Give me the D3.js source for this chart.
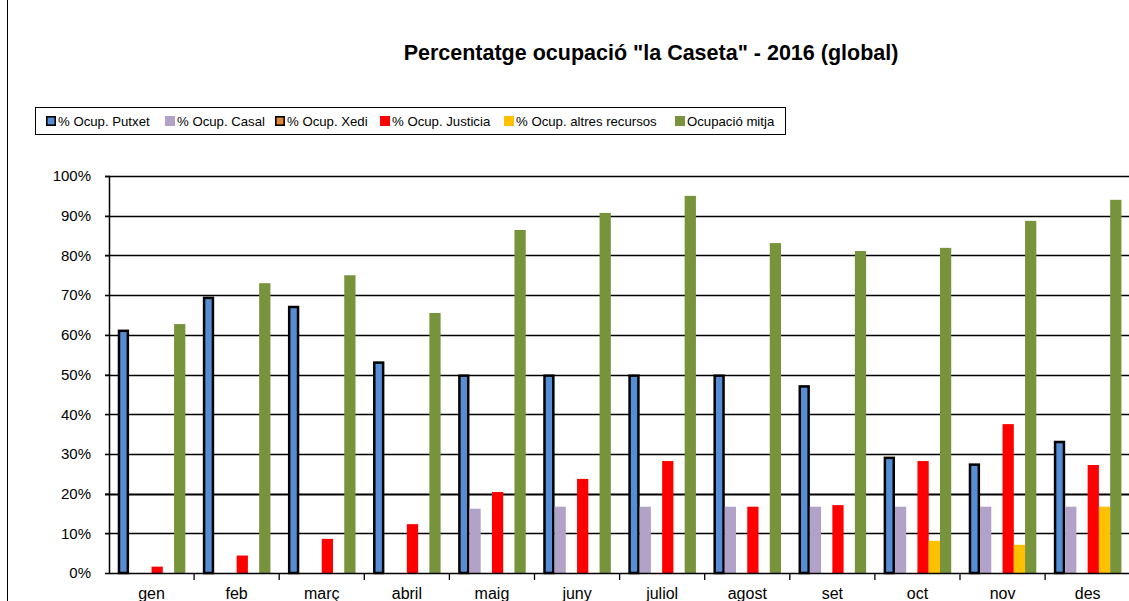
<!DOCTYPE html>
<html>
<head>
<meta charset="utf-8">
<script src="https://cdn.jsdelivr.net/npm/d3@7"></script>
<style>
  body { margin: 0; background: #fff; }
  svg { display: block; font-family: "Liberation Sans", Arial, sans-serif; }
</style>
</head>
<body>
<svg id="chart" width="1129" height="601"></svg>
<script>
// Categories (months) and series values, in percent
const months = ["gen", "feb", "març", "abril", "maig", "juny", "juliol", "agost", "set", "oct", "nov", "des"];
const seriesNames = ["% Ocup. Putxet", "% Ocup. Casal", "% Ocup. Xedi", "% Ocup. Justicia", "% Ocup. altres recursos", "Ocupació mitja"];
const putxet   = [61, 69.3, 67, 53, 49.7, 49.7, 49.7, 49.7, 47, 29, 27.3, 33];
const casal    = [0, 0, 0, 0, 16.2, 16.7, 16.7, 16.7, 16.7, 16.7, 16.7, 16.7];
const xedi     = [0, 0, 0, 0, 0, 0, 0, 0, 0, 0, 0, 0];
const justicia = [1.6, 4.4, 8.6, 12.3, 20.4, 23.7, 28.2, 16.7, 17.1, 28.2, 37.5, 27.2];
const altres   = [0, 0, 0, 0, 0, 0, 0, 0, 0, 8.1, 7.1, 16.7];
const mitja    = [62.7, 73, 75, 65.5, 86.4, 90.7, 95, 83.1, 81.1, 81.9, 88.7, 94];
const yTicks = [0, 10, 20, 30, 40, 50, 60, 70, 80, 90, 100];

const allSeries = [putxet, casal, xedi, justicia, altres, mitja];
const colors = ["#558ED5", "#B3A2C7", "#E0873A", "#FF0000", "#FFC000", "#77933C"];
const outlined = [true, false, true, false, false, false];

const svg = d3.select("#chart");

// plot area
const plotLeft = 109, plotTop = 176, plotBottom = 573;
const catWidth = 85.1;
const plotRight = plotLeft + catWidth * months.length;

const x0 = d3.scaleBand().domain(months).range([plotLeft, plotRight]).padding(0);
const x1 = d3.scaleBand().domain(d3.range(seriesNames.length))
    .range([0, x0.bandwidth()]).paddingInner(0).paddingOuter(0.78);
const y = d3.scaleLinear().domain([0, 100]).range([plotBottom, plotTop]);

// outer chart border (left edge only visible)
svg.append("line")
    .attr("x1", 7.5).attr("x2", 7.5).attr("y1", 0).attr("y2", 601)
    .attr("stroke", "#000").attr("stroke-width", 1);

// title
svg.append("text")
    .attr("x", 651).attr("y", 60)
    .attr("text-anchor", "middle")
    .attr("font-size", 21.5)
    .attr("font-weight", "bold")
    .attr("fill", "#000")
    .text('Percentatge ocupació "la Caseta" - 2016 (global)');

// gridlines
svg.append("g").selectAll("line")
    .data(yTicks.filter(t => t > 0))
    .join("line")
    .attr("x1", plotLeft - 4).attr("x2", 1129)
    .attr("y1", d => Math.round(y(d)) + 0.5).attr("y2", d => Math.round(y(d)) + 0.5)
    .attr("stroke", "#000")
    .attr("stroke-width", d => d === 20 ? 2.2 : 1.3);

// y axis
const yAxis = d3.axisLeft(y).tickValues(yTicks).tickFormat(d => d + "%").tickSize(4).tickPadding(14);
const gy = svg.append("g").attr("transform", `translate(${plotLeft},0)`).call(yAxis);
gy.select(".domain").attr("stroke", "#000").attr("stroke-width", 1.5);
gy.selectAll(".tick line").attr("stroke", "#000");
gy.selectAll(".tick text").attr("font-size", 15).attr("fill", "#000")
    .attr("font-family", "Liberation Sans, Arial, sans-serif");

// bars
const groups = svg.append("g").selectAll("g")
    .data(months)
    .join("g")
    .attr("transform", d => `translate(${x0(d)},0)`);

groups.selectAll("rect")
    .data((m, i) => allSeries.map((s, k) => ({ k, v: s[i] })).filter(d => d.v > 0))
    .join("rect")
    .attr("x", d => x1(d.k) + (outlined[d.k] ? 1.2 : 0))
    .attr("width", d => x1.bandwidth() - (outlined[d.k] ? 2.4 : 0))
    .attr("y", d => y(d.v))
    .attr("height", d => plotBottom - y(d.v))
    .attr("fill", d => colors[d.k])
    .attr("stroke", d => outlined[d.k] ? "#000" : "none")
    .attr("stroke-width", 2.5);

// x axis (labels sit at the bottom edge, as in the original)
const xAxis = d3.axisBottom(x0).tickSize(0).tickPadding(0);
const gx = svg.append("g").attr("transform", `translate(0,${plotBottom})`).call(xAxis);
gx.select(".domain").attr("stroke", "#000").attr("stroke-width", 1.5);
gx.selectAll(".tick text").attr("font-size", 16).attr("fill", "#000")
    .attr("dy", 0).attr("y", 26)
    .attr("font-family", "Liberation Sans, Arial, sans-serif");
// category separator ticks
gx.append("g").selectAll("line")
    .data(months.slice(1))
    .join("line")
    .attr("x1", d => x0(d)).attr("x2", d => x0(d))
    .attr("y1", 0).attr("y2", 7)
    .attr("stroke", "#000").attr("stroke-width", 1.3);

// legend
const legend = svg.append("g");
legend.append("rect")
    .attr("x", 35.5).attr("y", 107.5).attr("width", 750).attr("height", 27)
    .attr("fill", "#fff").attr("stroke", "#000").attr("stroke-width", 1);
const legendX = [46, 165, 275, 380, 504, 675];
seriesNames.forEach((name, k) => {
  const g = legend.append("g").attr("transform", `translate(${legendX[k]},116)`);
  g.append("rect")
    .attr("x", outlined[k] ? 0.8 : 0).attr("y", outlined[k] ? 0.8 : 0)
    .attr("width", outlined[k] ? 8.4 : 10).attr("height", outlined[k] ? 8.4 : 10)
    .attr("fill", colors[k])
    .attr("stroke", outlined[k] ? "#000" : "none").attr("stroke-width", 1.6);
  g.append("text")
    .attr("x", 12).attr("y", 9.8)
    .attr("font-size", 13.2).attr("fill", "#000")
    .text(name);
});
</script>
</body>
</html>
